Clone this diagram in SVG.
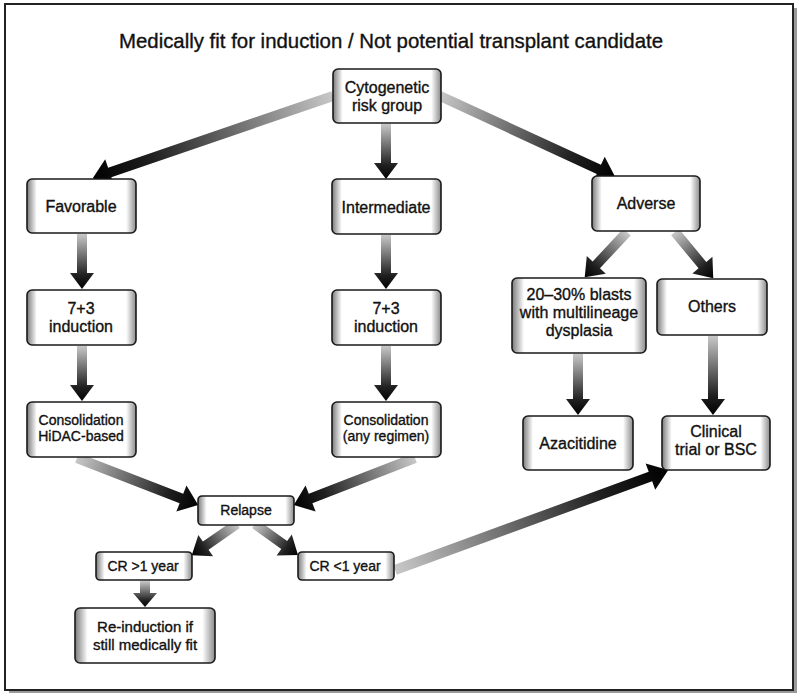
<svg xmlns="http://www.w3.org/2000/svg" width="800" height="695" viewBox="0 0 800 695">
<style>
text{font-family:"Liberation Sans",Arial,Helvetica,sans-serif;fill:#111;stroke:#111;stroke-width:0.35;text-anchor:middle}
.t{font-size:20.4px}
.n{font-size:16px}
.s{font-size:14px}
.box{fill:url(#bf);stroke:#1a1a1a;stroke-width:1.6}
.arr{fill:url(#ag)}
</style>
<defs>
<linearGradient id="bf" x1="0" y1="0" x2="1" y2="0">
<stop offset="0" stop-color="#7a7a7a"/>
<stop offset="0.09" stop-color="#fff"/>
<stop offset="0.91" stop-color="#fff"/>
<stop offset="1" stop-color="#8a8a8a"/>
</linearGradient>
<linearGradient id="ag" x1="0" y1="0" x2="1" y2="0">
<stop offset="0" stop-color="#c8c8c8"/>
<stop offset="0.75" stop-color="#202020"/>
<stop offset="1" stop-color="#000"/>
</linearGradient>
</defs>
<rect x="9" y="8" width="788" height="685" fill="#9a9a9a"/>
<rect x="5" y="4" width="788" height="686" fill="#fff" stroke="#222" stroke-width="2"/>
<text class="t" x="391" y="48">Medically fit for induction / Not potential transplant candidate</text>
<g id="connectors">
<polygon class="arr" transform="translate(333,96) rotate(161.1)" points="0,-5 236,-5 236,-14 254,0 236,14 236,5 0,5"/>
<polygon class="arr" transform="translate(386,124) rotate(90)" points="0,-5 39,-5 39,-12 55,0 39,12 39,5 0,5"/>
<polygon class="arr" transform="translate(440,96) rotate(24.8)" points="0,-5 175,-5 175,-14 193,0 175,14 175,5 0,5"/>
<polygon class="arr" transform="translate(82,234) rotate(90)" points="0,-5 39,-5 39,-12 55,0 39,12 39,5 0,5"/>
<polygon class="arr" transform="translate(386,235) rotate(90)" points="0,-5 38,-5 38,-12 54,0 38,12 38,5 0,5"/>
<polygon class="arr" transform="translate(82,346) rotate(90)" points="0,-5 39,-5 39,-12 55,0 39,12 39,5 0,5"/>
<polygon class="arr" transform="translate(386,346) rotate(90)" points="0,-5 39,-5 39,-12 55,0 39,12 39,5 0,5"/>
<polygon class="arr" transform="translate(627,232) rotate(133)" points="0,-5 45,-5 45,-13 62,0 45,13 45,5 0,5"/>
<polygon class="arr" transform="translate(675,232) rotate(50.4)" points="0,-5 43,-5 43,-13 60,0 43,13 43,5 0,5"/>
<polygon class="arr" transform="translate(578,354) rotate(90)" points="0,-5 45,-5 45,-12 61,0 45,12 45,5 0,5"/>
<polygon class="arr" transform="translate(713,336) rotate(90)" points="0,-5 63,-5 63,-12 79,0 63,12 63,5 0,5"/>
<polygon class="arr" transform="translate(77,458) rotate(21.2)" points="0,-5 112,-5 112,-14 130,0 112,14 112,5 0,5"/>
<polygon class="arr" transform="translate(415,458) rotate(158.8)" points="0,-5 112,-5 112,-14 130,0 112,14 112,5 0,5"/>
<polygon class="arr" transform="translate(237,524) rotate(145.4)" points="0,-5 38,-5 38,-13 55,0 38,13 38,5 0,5"/>
<polygon class="arr" transform="translate(255,524) rotate(35.8)" points="0,-5 36,-5 36,-13 53,0 36,13 36,5 0,5"/>
<polygon class="arr" transform="translate(145,581) rotate(90)" points="0,-5 12,-5 12,-12 26,0 12,12 12,5 0,5"/>
<polygon class="arr" transform="translate(395,570) rotate(-20.1)" points="0,-5 272,-5 272,-14 291,0 272,14 272,5 0,5"/>
</g>
<g id="cyto"><rect class="box" x="333" y="69" width="108" height="54" rx="5"/><text class="n" x="387" y="93">Cytogenetic</text><text class="n" x="387" y="111">risk group</text></g>
<g id="fav"><rect class="box" x="27" y="179" width="109" height="54" rx="5"/><text class="n" x="81" y="212">Favorable</text></g>
<g id="int"><rect class="box" x="332" y="179" width="109" height="55" rx="5"/><text class="n" x="386" y="213">Intermediate</text></g>
<g id="adv"><rect class="box" x="592" y="176" width="108" height="55" rx="5"/><text class="n" x="646" y="209">Adverse</text></g>
<g id="ind1"><rect class="box" x="27" y="290" width="109" height="55" rx="5"/><text class="n" x="81" y="314">7+3</text><text class="n" x="81" y="332">induction</text></g>
<g id="ind2"><rect class="box" x="332" y="290" width="109" height="55" rx="5"/><text class="n" x="386" y="314">7+3</text><text class="n" x="386" y="332">induction</text></g>
<g id="blasts"><rect class="box" x="512" y="278" width="134" height="75" rx="5"/><text class="n" x="579" y="300">20–30% blasts</text><text class="n" x="579" y="318">with multilineage</text><text class="n" x="579" y="336">dysplasia</text></g>
<g id="others"><rect class="box" x="657" y="279" width="110" height="56" rx="5"/><text class="n" x="712" y="312">Others</text></g>
<g id="cons1"><rect class="box" x="27" y="402" width="109" height="55" rx="5"/><text class="s" x="81" y="425">Consolidation</text><text class="s" x="81" y="441">HiDAC-based</text></g>
<g id="cons2"><rect class="box" x="332" y="402" width="109" height="55" rx="5"/><text class="s" x="386" y="425">Consolidation</text><text class="s" x="386" y="441">(any regimen)</text></g>
<g id="aza"><rect class="box" x="523" y="416" width="110" height="54" rx="5"/><text class="n" x="578" y="449">Azacitidine</text></g>
<g id="clin"><rect class="box" x="662" y="416" width="108" height="54" rx="5"/><text class="n" x="716" y="437">Clinical</text><text class="n" x="716" y="455">trial or BSC</text></g>
<g id="relapse"><rect class="box" x="198" y="496" width="96" height="29" rx="4"/><text class="s" x="246" y="515">Relapse</text></g>
<g id="crgt"><rect class="box" x="96" y="552" width="96" height="28" rx="4"/><text class="s" x="143" y="571">CR &gt;1 year</text></g>
<g id="crlt"><rect class="box" x="298" y="552" width="96" height="28" rx="4"/><text class="s" x="345" y="571">CR &lt;1 year</text></g>
<g id="reind"><rect class="box" x="75" y="608" width="140" height="55" rx="5"/><text class="n" x="145" y="632" style="font-size:15px">Re-induction if</text><text class="n" x="145" y="650" style="font-size:15px">still medically fit</text></g>
</svg>
